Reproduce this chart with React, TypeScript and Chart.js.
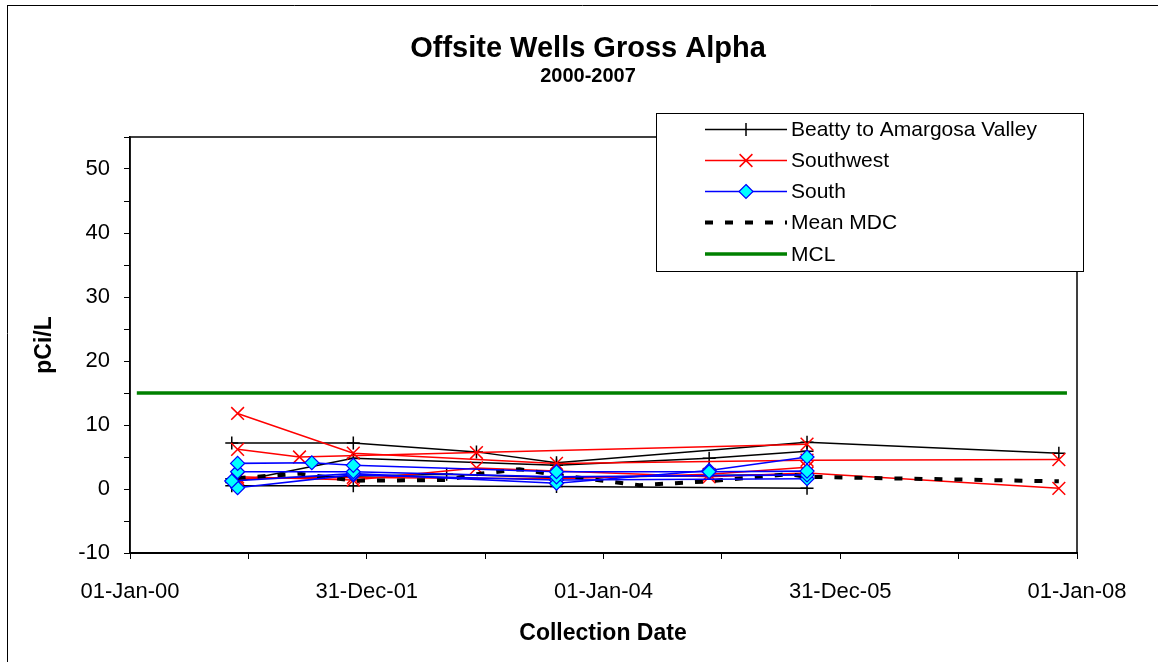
import React, { useEffect, useRef } from "react";
import { Chart, registerables } from "chart.js";

Chart.register(...registerables);

// ---------- DATA ----------
const TITLE = "Offsite Wells Gross Alpha";
const SUBTITLE = "2000-2007";
const X_TITLE = "Collection Date";
const Y_TITLE = "pCi/L";
const X_TICK_LABELS = ["01-Jan-00", "31-Dec-01", "01-Jan-04", "31-Dec-05", "01-Jan-08"];
const X_START = "2000-01-01";
const X_END = "2008-01-01";
const Y_MIN = -10;
const Y_MAX = 55;
const LEGEND_LABELS = ["Beatty to Amargosa Valley", "Southwest", "South", "Mean MDC", "MCL"];

// Beatty to Amargosa Valley wells
const BEATTY_A_DATES = ["2000-11-10", "2001-11-20", "2002-12-05", "2003-08-09", "2005-09-20", "2007-11-06"];
const BEATTY_A_VALUES = [7.2, 7.2, 5.8, 4.1, 7.3, 5.6];
const BEATTY_B_DATES = ["2000-11-10", "2001-11-20", "2003-08-09", "2005-09-20"];
const BEATTY_B_VALUES = [0.5, 0.5, 0.4, 0.1];
const BEATTY_C_DATES = ["2000-11-10", "2001-11-20", "2003-08-09", "2004-11-22", "2005-09-20"];
const BEATTY_C_VALUES = [1.0, 4.8, 3.7, 4.8, 5.9];
const BEATTY_D_DATES = ["2000-11-10", "2002-09-04", "2003-08-09", "2005-09-20"];
const BEATTY_D_VALUES = [1.6, 2.3, 1.8, 2.3];

// Southwest wells
const SW_A_DATES = ["2000-11-28", "2001-11-20", "2003-08-09", "2005-09-20", "2007-11-06"];
const SW_A_VALUES = [11.8, 5.6, 4.0, 4.5, 4.6];
const SW_B_DATES = ["2000-11-28", "2001-06-07", "2002-12-05", "2005-09-20"];
const SW_B_VALUES = [6.2, 5.0, 5.7, 7.0];
const SW_C_DATES = ["2000-11-28", "2001-11-20", "2002-12-05", "2004-11-22", "2005-09-20", "2007-11-06"];
const SW_C_VALUES = [1.9, 1.4, 3.3, 1.9, 2.5, 0.1];
const SW_D_DATES = ["2000-11-28", "2001-11-20", "2003-08-09", "2004-11-22", "2005-09-20"];
const SW_D_VALUES = [1.6, 1.8, 1.6, 2.3, 3.4];

// South wells
const S_A_DATES = ["2000-11-28", "2001-07-15", "2001-11-20", "2003-08-09", "2004-11-22", "2005-09-20"];
const S_A_VALUES = [4.0, 4.1, 3.7, 2.7, 2.7, 2.8];
const S_B_DATES = ["2000-11-28", "2001-11-20", "2003-08-09", "2005-09-20"];
const S_B_VALUES = [2.7, 2.7, 1.9, 2.2];
const S_C_DATES = ["2000-11-10", "2001-11-20", "2003-08-09", "2004-11-22", "2005-09-20"];
const S_C_VALUES = [1.25, 2.4, 0.9, 2.9, 5.0];
const S_D_DATES = ["2000-11-28", "2001-11-20", "2003-08-09", "2005-09-20"];
const S_D_VALUES = [0.2, 2.2, 1.4, 1.6];

// Mean MDC
const MDC_DATES = ["2000-11-28", "2001-06-07", "2001-11-20", "2002-09-04", "2002-12-05", "2003-04-17", "2003-08-09", "2004-04-21", "2004-11-22", "2005-07-27", "2005-09-20", "2007-11-06"];
const MDC_VALUES = [1.7, 2.4, 1.3, 1.4, 2.3, 3.1, 2.2, 0.6, 1.2, 2.3, 1.9, 1.2];

// MCL
const MCL_DATES = ["2000-01-22", "2007-12-01"];
const MCL_VALUES = [15, 15];

// ---------- HELPERS ----------
const DAY0 = Date.UTC(2000, 0, 1);
const toDay = (s: string) => {
  const [y, m, d] = s.split("-").map(Number);
  return (Date.UTC(y, m - 1, d) - DAY0) / 86400000;
};
const pts = (dates: string[], values: number[]) => dates.map((d, i) => ({ x: toDay(d), y: values[i] }));

const FONT = "'Liberation Sans', Arial, sans-serif";

const BLACK = "#000000";
const RED = "#FF0000";
const BLUE = "#0000FF";
const CYAN = "#00FFFF";
const GREEN = "#008000";

function beatty(dates: string[], values: number[]) {
  return {
    label: LEGEND_LABELS[0], data: pts(dates, values), borderColor: BLACK, borderWidth: 1.5,
    pointStyle: "cross", pointRadius: 6.5, pointBorderColor: BLACK, pointBorderWidth: 1.5,
    pointBackgroundColor: BLACK, order: 3,
  };
}
function southwest(dates: string[], values: number[]) {
  return {
    label: LEGEND_LABELS[1], data: pts(dates, values), borderColor: RED, borderWidth: 1.5,
    pointStyle: "crossRot", pointRadius: 9, pointBorderColor: RED, pointBorderWidth: 1.5,
    pointBackgroundColor: RED, order: 2,
  };
}
function south(dates: string[], values: number[]) {
  return {
    label: LEGEND_LABELS[2], data: pts(dates, values), borderColor: BLUE, borderWidth: 1.6,
    pointStyle: "rectRot", pointRadius: 7, pointBorderColor: BLUE, pointBorderWidth: 1.2,
    pointBackgroundColor: CYAN, order: 0,
  };
}

const framePlugin = {
  id: "frame",
  beforeDraw(chart: any) {
    const ctx = chart.ctx;
    ctx.save();
    ctx.fillStyle = "#fff";
    ctx.fillRect(0, 0, chart.width, chart.height);
    ctx.strokeStyle = "#000";
    ctx.lineWidth = 1;
    ctx.beginPath();
    ctx.moveTo(7.5, 5);
    ctx.lineTo(7.5, chart.height);
    ctx.moveTo(7, 5.5);
    ctx.lineTo(chart.width, 5.5);
    ctx.stroke();
    ctx.restore();
  },
  beforeDatasetsDraw(chart: any) {
    const { ctx, chartArea } = chart;
    ctx.save();
    ctx.strokeStyle = "#000";
    ctx.lineWidth = 1.5;
    ctx.strokeRect(chartArea.left, chartArea.top, chartArea.right - chartArea.left, chartArea.bottom - chartArea.top);
    ctx.restore();
  },
  afterDraw(chart: any) {
    const ctx = chart.ctx;
    ctx.save();
    ctx.fillStyle = "#000";
    ctx.textAlign = "center";
    ctx.textBaseline = "alphabetic";
    ctx.font = `bold 29px ${FONT}`;
    ctx.fillText(TITLE, 588, 57);
    ctx.font = `bold 20px ${FONT}`;
    ctx.fillText(SUBTITLE, 588, 82);
    ctx.font = `bold 23px ${FONT}`;
    ctx.fillText(X_TITLE, 603, 640);
    ctx.save();
    ctx.translate(51, 345);
    ctx.rotate(-Math.PI / 2);
    ctx.fillText(Y_TITLE, 0, 0);
    ctx.restore();

    // legend
    const bx = 656.5, by = 113.5, bw = 427, bh = 158;
    ctx.fillStyle = "#fff";
    ctx.fillRect(bx, by, bw, bh);
    ctx.strokeStyle = "#000";
    ctx.lineWidth = 1;
    ctx.strokeRect(bx, by, bw, bh);
    const rows = [129.5, 160.5, 191.5, 222.5, 254];
    const x0 = 705, x1 = 787, xm = 746;
    rows.forEach((y, i) => {
      ctx.save();
      ctx.setLineDash([]);
      if (i === 0) {
        ctx.strokeStyle = BLACK; ctx.lineWidth = 1.5;
        ctx.beginPath(); ctx.moveTo(x0, y); ctx.lineTo(x1, y);
        ctx.moveTo(xm, y - 6.5); ctx.lineTo(xm, y + 6.5); ctx.stroke();
      } else if (i === 1) {
        ctx.strokeStyle = RED; ctx.lineWidth = 1.5;
        ctx.beginPath(); ctx.moveTo(x0, y); ctx.lineTo(x1, y);
        const r = 6.4;
        ctx.moveTo(xm - r, y - r); ctx.lineTo(xm + r, y + r);
        ctx.moveTo(xm + r, y - r); ctx.lineTo(xm - r, y + r); ctx.stroke();
      } else if (i === 2) {
        ctx.strokeStyle = BLUE; ctx.lineWidth = 1.5;
        ctx.beginPath(); ctx.moveTo(x0, y); ctx.lineTo(x1, y); ctx.stroke();
        const r = 7;
        ctx.beginPath();
        ctx.moveTo(xm, y - r); ctx.lineTo(xm + r, y); ctx.lineTo(xm, y + r); ctx.lineTo(xm - r, y); ctx.closePath();
        ctx.fillStyle = CYAN; ctx.fill(); ctx.lineWidth = 1.2; ctx.stroke();
      } else if (i === 3) {
        ctx.strokeStyle = BLACK; ctx.lineWidth = 4;
        ctx.setLineDash([8, 12]);
        ctx.beginPath(); ctx.moveTo(x0, y); ctx.lineTo(x1, y); ctx.stroke();
      } else {
        ctx.strokeStyle = GREEN; ctx.lineWidth = 3.5;
        ctx.beginPath(); ctx.moveTo(x0, y); ctx.lineTo(x1, y); ctx.stroke();
      }
      ctx.restore();
      ctx.fillStyle = "#000";
      ctx.textAlign = "left";
      ctx.textBaseline = "middle";
      ctx.font = `21px ${FONT}`;
      ctx.fillText(LEGEND_LABELS[i], 791, y + 1);
    });
    ctx.restore();
  },
};

export default function App() {
  const ref = useRef<HTMLCanvasElement | null>(null);
  useEffect(() => {
    if (!ref.current) return;
    const xMin = toDay(X_START);
    const xMax = toDay(X_END);
    const year = (xMax - xMin) / 8;
    const chart = new Chart(ref.current, {
      type: "line",
      data: {
        datasets: [
          beatty(BEATTY_A_DATES, BEATTY_A_VALUES),
          beatty(BEATTY_B_DATES, BEATTY_B_VALUES),
          beatty(BEATTY_C_DATES, BEATTY_C_VALUES),
          beatty(BEATTY_D_DATES, BEATTY_D_VALUES),
          southwest(SW_A_DATES, SW_A_VALUES),
          southwest(SW_B_DATES, SW_B_VALUES),
          southwest(SW_C_DATES, SW_C_VALUES),
          southwest(SW_D_DATES, SW_D_VALUES),
          south(S_A_DATES, S_A_VALUES),
          south(S_B_DATES, S_B_VALUES),
          south(S_C_DATES, S_C_VALUES),
          south(S_D_DATES, S_D_VALUES),
          {
            label: LEGEND_LABELS[3], data: pts(MDC_DATES, MDC_VALUES), borderColor: BLACK,
            borderWidth: 4, borderDash: [8, 12], pointRadius: 0, order: 1,
          },
          {
            label: LEGEND_LABELS[4], data: pts(MCL_DATES, MCL_VALUES), borderColor: GREEN,
            borderWidth: 3.5, pointRadius: 0, order: 4,
          },
        ] as any,
      },
      options: {
        animation: false,
        responsive: false,
        devicePixelRatio: 1,
        layout: { padding: { left: 0, right: 81, top: 137, bottom: 0 } },
        plugins: { legend: { display: false }, tooltip: { enabled: false }, title: { display: false } },
        elements: { line: { tension: 0 } },
        scales: {
          x: {
            type: "linear",
            min: xMin,
            max: xMax,
            afterBuildTicks: (scale: any) => {
              const t = [];
              for (let i = 0; i <= 8; i++) t.push({ value: xMin + i * year });
              scale.ticks = t;
            },
            afterFit: (scale: any) => { scale.height = 109; },
            ticks: {
              autoSkip: false,
              maxRotation: 0,
              padding: 20,
              color: "#000",
              font: { family: FONT, size: 22 },
              callback: (_v: any, i: number) => (i % 2 === 0 ? X_TICK_LABELS[i / 2] : ""),
            },
            grid: { drawOnChartArea: false, drawTicks: true, tickLength: 6, tickColor: "#000", tickWidth: 1 },
            border: { display: true, color: "#000", width: 2 },
          },
          y: {
            type: "linear",
            min: Y_MIN,
            max: Y_MAX,
            afterBuildTicks: (scale: any) => {
              const t = [];
              for (let v = Y_MIN; v <= Y_MAX; v += 5) t.push({ value: v });
              scale.ticks = t;
            },
            afterFit: (scale: any) => { scale.width = 130; },
            ticks: {
              autoSkip: false,
              padding: 14,
              color: "#000",
              font: { family: FONT, size: 22 },
              callback: (v: any) => (Number(v) % 10 === 0 ? String(v) : ""),
            },
            grid: { drawOnChartArea: false, drawTicks: true, tickLength: 6, tickColor: "#000", tickWidth: 1 },
            border: { display: true, color: "#000", width: 1.5 },
          },
        },
      },
      plugins: [framePlugin],
    });
    return () => chart.destroy();
  }, []);
  return (
    <div style={{ position: "fixed", left: 0, top: 0, width: 1158, height: 662, background: "#fff" }}>
      <canvas ref={ref} width={1158} height={662} style={{ width: 1158, height: 662, display: "block" }} />
    </div>
  );
}
